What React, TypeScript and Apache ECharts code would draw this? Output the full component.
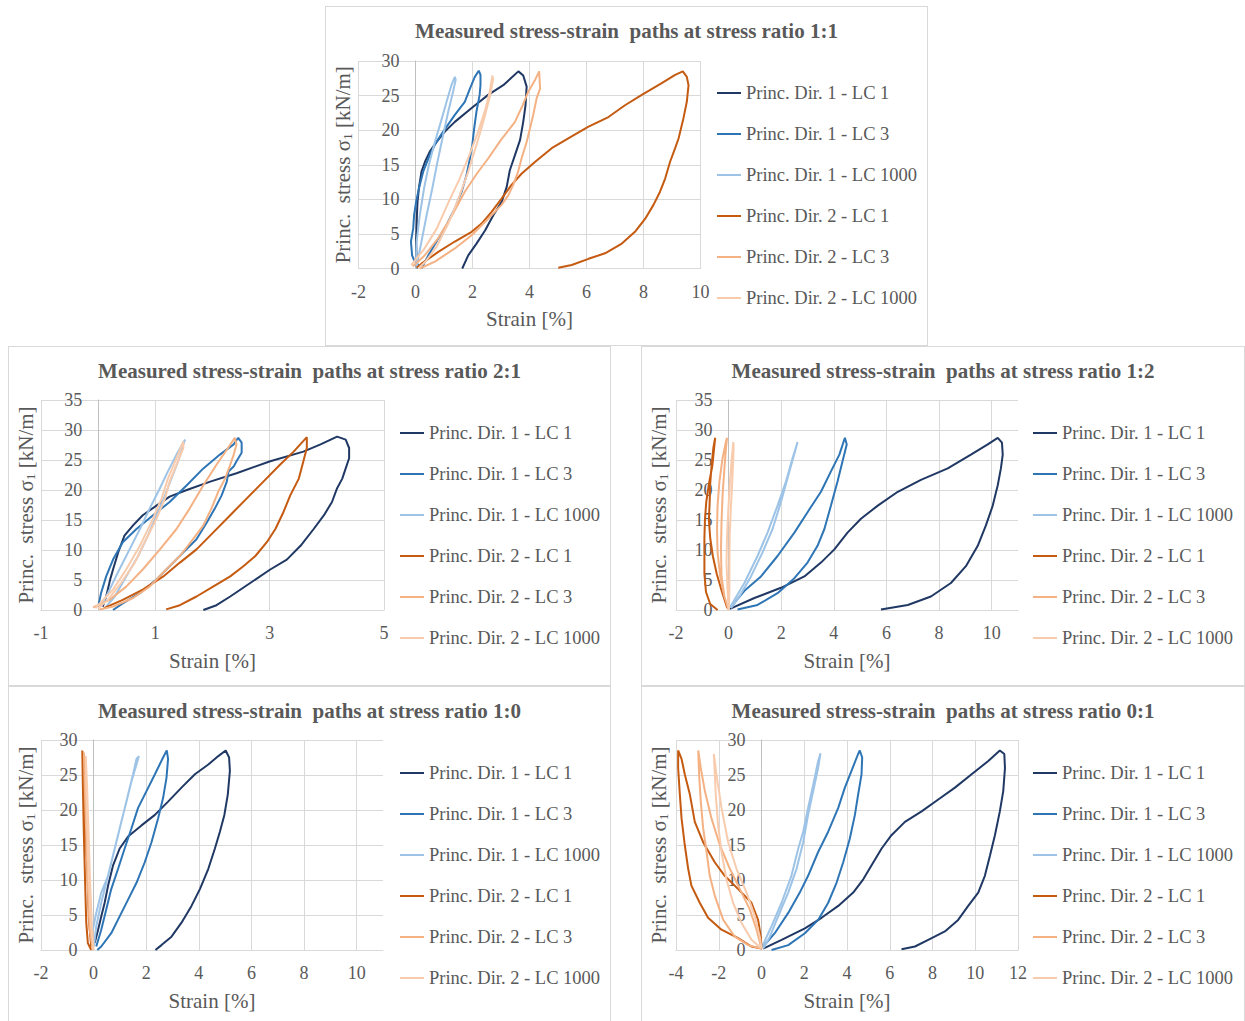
import React, { useEffect, useRef } from 'react';
import * as echarts from 'echarts';

const FONT = 'Liberation Serif';
const TXT = '#595959';
const GRID_C = '#d9d9d9';
const AXIS_C = '#bfbfbf';

const seriesNames = [
  'Princ. Dir. 1 - LC 1',
  'Princ. Dir. 1 - LC 3',
  'Princ. Dir. 1 - LC 1000',
  'Princ. Dir. 2 - LC 1',
  'Princ. Dir. 2 - LC 3',
  'Princ. Dir. 2 - LC 1000',
];
const seriesColors = ['#203864', '#2e75b6', '#9dc3e6', '#c55a11', '#f4b183', '#f8cbad'];

const xName = 'Strain [%]';
const yName = 'Princ.  stress σ{sub|1} [kN/m]';

// ---------- stress ratio 1:1 ----------
const r11_d1_lc1 = [[0.05,0],[0.02,3.9],[0.05,7.7],[0.07,9.6],[0.12,11.6],[0.21,14.0],[0.33,15.4],[0.5,16.9],[0.74,18.3],[1.03,19.8],[1.38,21.2],[1.97,23.2],[2.55,25.1],[3.08,26.5],[3.61,28.5],[3.78,27.9],[3.9,26.3],[3.86,23.6],[3.78,21.2],[3.67,18.6],[3.49,16.4],[3.31,14.2],[3.2,11.8],[3.02,9.6],[2.73,7.7],[2.44,5.5],[2.14,3.6],[1.85,1.9],[1.64,0]];
const r11_d1_lc3 = [[0.2,0],[-0.05,1.2],[-0.12,1.9],[-0.16,3.9],[-0.08,5.8],[-0.05,7.7],[0.02,9.6],[0.12,11.6],[0.27,14],[0.5,16.4],[0.72,18.2],[0.97,19.8],[1.38,22.2],[1.73,24.1],[1.91,26],[2.08,27.7],[2.22,28.6],[2.28,28],[2.28,26.5],[2.25,25.1],[2.14,22.7],[2.06,20.3],[1.99,17.8],[1.91,15.9],[1.79,13.5],[1.62,11.1],[1.38,8.7],[1.09,6.3],[0.74,3.9],[0.45,1.9],[0.21,0]];
const r11_d1_lc1000 = [[0.02,0.5],[0.04,3.9],[0.15,7.7],[0.3,11.6],[0.47,15],[0.68,18.3],[0.89,21.2],[1.09,24.1],[1.26,26.5],[1.38,27.7],[1.41,27.3],[1.32,25.6],[1.15,22.7],[0.97,19.3],[0.77,15.4],[0.59,11.6],[0.39,7.7],[0.21,3.9],[0.07,1],[0.04,0]];
const r11_d2_lc1 = [[0.04,0.1],[0.21,0.7],[0.8,2.4],[1.38,3.9],[1.97,5.3],[2.32,6.5],[2.67,8.2],[3.02,10.1],[3.37,12.1],[3.72,13.7],[4.19,15.4],[4.78,17.4],[5.36,18.8],[6.07,20.5],[6.77,21.9],[7.35,23.6],[7.94,25.1],[8.64,26.8],[9.11,28],[9.38,28.5],[9.52,27.7],[9.58,26.5],[9.52,24.1],[9.4,21.7],[9.23,18.8],[9.11,17.4],[8.93,15.4],[8.76,13],[8.58,11.1],[8.35,9.2],[8.06,7.2],[7.7,5.3],[7.24,3.6],[6.65,2.2],[6.07,1.4],[5.48,0.5],[5.01,0.1]];
const r11_d2_lc3 = [[-0.1,0.3],[0.3,1.8],[0.8,4.4],[1.3,7.8],[1.73,11.1],[2.15,13.7],[2.55,15.9],[3.0,18.6],[3.49,21.2],[3.75,23.5],[3.96,25.6],[4.2,27.3],[4.34,28.5],[4.37,26],[4.25,24.6],[4.13,22.2],[4.02,20.3],[3.9,18.3],[3.72,15.9],[3.6,14],[3.43,12.1],[3.26,10.6],[3.02,9.2],[2.55,7.2],[1.97,4.8],[1.38,2.9],[0.68,1],[0.15,0]];
const r11_d2_lc1000 = [[-0.15,0.5],[0.3,2.8],[0.75,5.8],[1.15,9.5],[1.55,13],[1.9,16.5],[2.2,19.8],[2.45,23],[2.6,25.5],[2.7,27.9],[2.72,27.3],[2.62,25],[2.4,21.5],[2.15,18],[1.85,14],[1.5,10],[1.15,6.5],[0.75,3.2],[0.35,1],[0.1,0]];

// ---------- stress ratio 2:1 ----------
const r21_d1_lc1 = [[0.08,0.56],[0.14,2.25],[0.21,5.1],[0.26,6.75],[0.35,9.6],[0.46,12.4],[0.61,14.1],[0.78,15.8],[1.02,17.4],[1.25,18.9],[1.55,20],[1.96,21.4],[2.42,22.8],[3.01,24.8],[3.59,26.4],[3.89,27.6],[4.18,28.9],[4.33,28.4],[4.39,27],[4.39,25.3],[4.33,23.6],[4.27,21.9],[4.18,20.3],[4.09,18],[3.95,15.8],[3.77,13.5],[3.54,10.7],[3.3,8.4],[3.01,6.75],[2.66,4.5],[2.31,2.25],[2.07,0.8],[1.84,0]];
const r21_d1_lc3 = [[0.0,0.56],[0.05,2.8],[0.14,5.6],[0.26,8.4],[0.43,11.3],[0.67,13.5],[0.96,15.8],[1.25,18],[1.55,20.8],[1.84,23.6],[2.13,25.9],[2.37,27.6],[2.45,28.7],[2.51,27.9],[2.51,26.2],[2.42,24.8],[2.37,23.9],[2.28,23.1],[2.25,21.4],[2.16,19.1],[2.04,16.9],[1.9,14.6],[1.72,11.8],[1.49,9.6],[1.25,7.3],[1.02,5.1],[0.73,2.8],[0.43,1.1],[0.26,0]];
const r21_d1_lc1000 = [[0.05,0.56],[0.2,3.4],[0.37,6.75],[0.55,10.1],[0.73,13.5],[0.9,16.9],[1.08,20.3],[1.22,23.1],[1.37,25.9],[1.52,28.4],[1.49,27.6],[1.4,24.8],[1.28,21.9],[1.17,19.1],[1.02,15.8],[0.87,12.4],[0.7,9],[0.49,5.6],[0.29,2.25],[0.14,0.56]];
const r21_d2_lc1 = [[0.1,0.3],[0.43,1.7],[0.78,3.4],[1.14,5.6],[1.43,7.9],[1.72,10.1],[2.01,12.9],[2.31,15.8],[2.6,18.6],[2.89,21.4],[3.18,24.2],[3.42,26.4],[3.65,28.8],[3.65,27],[3.59,24.8],[3.51,21.9],[3.36,19.1],[3.24,16.3],[3.1,13.5],[2.95,11.3],[2.75,9],[2.54,7.3],[2.31,5.6],[2.01,3.9],[1.72,2.25],[1.43,0.8],[1.19,0.1]];
const r21_d2_lc3 = [[-0.09,0.45],[0.2,1.7],[0.49,3.9],[0.78,6.75],[1.08,10.1],[1.37,13.5],[1.6,16.9],[1.84,20.8],[2.07,24.2],[2.25,26.7],[2.39,28.7],[2.42,27.6],[2.37,25.9],[2.31,24.2],[2.22,21.9],[2.1,19.7],[1.98,16.9],[1.84,14.1],[1.66,11.8],[1.43,9],[1.19,6.75],[0.9,3.9],[0.61,2],[0.26,0.56],[0.02,0.1]];
const r21_d2_lc1000 = [[-0.05,0.3],[0.26,3.4],[0.49,6.75],[0.73,10.7],[0.93,14.6],[1.11,18.6],[1.22,21.9],[1.37,25.3],[1.49,28.1],[1.49,27],[1.37,24.2],[1.25,21.4],[1.17,18.6],[1.02,15.2],[0.84,11.8],[0.64,7.9],[0.4,4.5],[0.17,1.7],[0,0.3]];

// ---------- stress ratio 1:2 ----------
const r12_d1_lc1 = [[0.05,0.2],[0.98,2],[1.99,3.7],[2.88,5.6],[3.51,7.9],[4.02,10.1],[4.52,12.9],[5.03,15.2],[5.67,17.4],[6.43,19.7],[7.31,21.7],[8.33,23.6],[9.21,25.9],[9.85,27.6],[10.23,28.7],[10.39,27.9],[10.42,25.9],[10.35,23.6],[10.23,20.8],[10.04,17.4],[9.78,14.1],[9.47,10.7],[9.02,7.3],[8.45,4.5],[7.69,2.25],[6.81,0.84],[5.79,0.1]];
const r12_d1_lc3 = [[0.09,0.5],[0.6,3.2],[1.23,5.6],[1.86,9],[2.5,12.9],[3.0,16.3],[3.51,19.7],[3.89,23.1],[4.21,25.9],[4.42,28.7],[4.49,27.6],[4.33,24.8],[4.14,21.4],[3.89,17.4],[3.64,13.5],[3.38,10.7],[3.0,7.9],[2.5,5.3],[1.86,2.8],[1.1,0.84],[0.34,0.1]];
const r12_d1_lc1000 = [[0.06,0.5],[0.6,4.5],[1.1,9],[1.48,12.9],[1.86,17.4],[2.18,21.4],[2.43,25.3],[2.62,28],[2.56,27],[2.31,23.1],[1.99,18],[1.67,13.5],[1.29,9.6],[0.85,5.6],[0.41,2.25],[0.09,0.3]];
const r12_d2_lc1 = [[-0.05,0.3],[-0.25,3],[-0.45,6],[-0.6,9],[-0.7,12],[-0.75,15],[-0.72,18],[-0.7,21],[-0.65,24],[-0.58,27],[-0.51,28.7],[-0.55,27],[-0.62,24],[-0.75,21],[-0.85,18],[-0.9,15],[-0.92,12],[-0.92,9],[-0.92,6],[-0.86,3],[-0.7,1],[-0.42,0]];
const r12_d2_lc3 = [[0,0],[-0.16,2.25],[-0.32,5.6],[-0.42,9.6],[-0.44,13.5],[-0.42,17.4],[-0.35,21.4],[-0.23,25.3],[-0.1,28.1],[-0.06,28.7],[-0.1,27],[-0.16,23.6],[-0.23,19.1],[-0.27,14.6],[-0.29,10.1],[-0.27,5.6],[-0.16,2.25],[-0.01,0.1]];
const r12_d2_lc1000 = [[0,0],[-0.04,3.4],[-0.08,7.9],[-0.06,12.4],[-0.01,16.9],[0.05,21.4],[0.11,24.8],[0.18,28],[0.19,27],[0.15,22.5],[0.09,17.4],[0.04,12.4],[0.03,7.9],[0.03,3.4],[0.01,0.1]];

// ---------- stress ratio 1:0 ----------
const r10_d1_lc1 = [[0.04,1],[0.17,2.9],[0.29,4.8],[0.42,6.75],[0.55,9.2],[0.74,12.1],[0.99,14.5],[1.31,16.2],[1.82,17.8],[2.33,19.3],[2.83,21.2],[3.34,23.2],[3.85,25.1],[4.36,26.5],[4.74,27.7],[5.02,28.5],[5.15,27.5],[5.18,25.6],[5.1,22.2],[4.97,19.3],[4.8,16.9],[4.61,14.5],[4.36,11.6],[4.04,8.7],[3.72,6.3],[3.34,3.9],[2.96,1.9],[2.58,0.7],[2.35,0]];
const r10_d1_lc3 = [[0.1,0.5],[0.29,2.9],[0.48,5.8],[0.67,8.7],[0.93,11.6],[1.18,14.5],[1.44,17.4],[1.69,20.3],[2.01,22.7],[2.33,25.1],[2.64,27.5],[2.78,28.5],[2.83,27.3],[2.77,24.6],[2.64,21.7],[2.45,18.8],[2.2,15.4],[1.94,12.5],[1.63,9.6],[1.31,7.2],[0.99,4.8],[0.67,2.4],[0.29,0.5],[0.14,0]];
const r10_d1_lc1000 = [[-0.03,2.9],[0.1,5.3],[0.29,8.2],[0.55,10.6],[0.74,13.5],[0.93,16.4],[1.12,19.3],[1.31,22.2],[1.5,25.1],[1.63,27.3],[1.72,27.7],[1.63,26.5],[1.44,24.1],[1.25,21.2],[1.05,18.3],[0.86,15.4],[0.67,12.5],[0.48,9.6],[0.29,6.75],[0.1,3.4],[0.01,0.5]];
const r10_d2_lc1 = [[-0.09,0],[-0.22,1],[-0.28,3.9],[-0.32,9.2],[-0.37,16.4],[-0.41,23.6],[-0.43,28.5],[-0.38,26],[-0.32,18.8],[-0.24,11.6],[-0.18,4.3],[-0.09,0.5]];
const r10_d2_lc3 = [[-0.03,0],[-0.15,2.9],[-0.22,9.2],[-0.28,16.4],[-0.34,23.6],[-0.37,28.2],[-0.32,25.1],[-0.24,17.8],[-0.18,10.6],[-0.11,3.9],[-0.04,0.1]];
const r10_d2_lc1000 = [[-0.01,0],[-0.11,3.9],[-0.19,10.6],[-0.24,17.4],[-0.28,23.6],[-0.3,27.7],[-0.25,23.6],[-0.19,16.4],[-0.13,9.2],[-0.06,2.9],[0,0]];

// ---------- stress ratio 0:1 ----------
const r01_d1_lc1 = [[0.08,0.2],[0.94,1.45],[2.03,3.1],[2.81,4.6],[3.59,6.3],[4.29,8.2],[4.76,10.1],[5.15,12.1],[5.62,14.5],[6.08,16.4],[6.71,18.3],[7.49,19.8],[8.27,21.5],[9.05,23.2],[9.83,25.1],[10.61,27],[11.15,28.5],[11.36,28],[11.39,26],[11.31,22.7],[11.15,19.8],[10.92,16.4],[10.69,13.5],[10.45,10.6],[10.14,8.2],[9.67,6.3],[9.2,4.3],[8.58,2.65],[7.8,1.45],[7.18,0.5],[6.55,0.1]];
const r01_d1_lc3 = [[0.08,0.5],[0.62,2.4],[1.25,5.3],[1.79,8.2],[2.18,10.6],[2.65,14],[3.12,16.9],[3.59,20.3],[3.9,23.2],[4.21,25.6],[4.52,28],[4.6,28.5],[4.71,27.5],[4.68,25.1],[4.52,22.2],[4.37,19.3],[4.13,15.9],[3.82,12.5],[3.51,9.6],[3.12,6.75],[2.65,4.3],[2.03,2.4],[1.25,0.7],[0.47,0]];
const r01_d1_lc1000 = [[0.03,0.5],[0.47,3.4],[0.94,6.75],[1.4,10.6],[1.72,14.5],[1.95,16.9],[2.18,20.3],[2.42,23.6],[2.65,27],[2.76,28.1],[2.65,26],[2.42,22.7],[2.18,19.3],[1.95,15.4],[1.64,11.6],[1.25,8.2],[0.78,4.8],[0.39,1.9],[0.08,0.2]];
const r01_d2_lc1 = [[0,0.2],[-0.47,0.5],[-1.09,1.7],[-1.87,2.9],[-2.5,4.6],[-2.89,6.75],[-3.28,9.2],[-3.43,11.6],[-3.59,15],[-3.74,18.8],[-3.82,22.2],[-3.9,26],[-3.9,28.5],[-3.74,27.3],[-3.59,25.1],[-3.35,22.2],[-3.12,18.3],[-2.73,15.4],[-2.18,12.5],[-1.72,10.6],[-1.09,8.7],[-0.47,6.75],[-0.16,4.3],[-0.03,1.9],[0,0.2]];
const r01_d2_lc3 = [[-0.03,0.2],[-0.62,0.7],[-1.25,1.9],[-1.79,4.3],[-2.18,7.7],[-2.42,10.6],[-2.57,14],[-2.73,17.4],[-2.84,21.2],[-2.92,25.1],[-2.96,28.5],[-2.84,26],[-2.65,22.7],[-2.34,18.8],[-1.95,15],[-1.48,11.6],[-1.01,8.7],[-0.55,5.8],[-0.23,2.9],[-0.03,0.5]];
const r01_d2_lc1000 = [[0,0.2],[-0.47,1.45],[-0.94,3.9],[-1.33,6.75],[-1.64,10.1],[-1.87,14],[-2.03,17.8],[-2.14,22.2],[-2.23,28],[-2.11,25.1],[-1.87,20.3],[-1.56,15.4],[-1.17,11.6],[-0.7,8.2],[-0.31,4.8],[-0.08,1.9],[0,0.2]];

const panels = [
  { title: 'Measured stress-strain  paths at stress ratio 1:1', xMin: -2, xMax: 10, yMax: 30,
    box: [325, 6, 603, 340], grid: [32.5, 54, 342, 207.5],
    data: [r11_d1_lc1, r11_d1_lc3, r11_d1_lc1000, r11_d2_lc1, r11_d2_lc3, r11_d2_lc1000] },
  { title: 'Measured stress-strain  paths at stress ratio 2:1', xMin: -1, xMax: 5, yMax: 35,
    box: [8, 346, 603, 340], grid: [32, 53, 343, 210],
    data: [r21_d1_lc1, r21_d1_lc3, r21_d1_lc1000, r21_d2_lc1, r21_d2_lc3, r21_d2_lc1000] },
  { title: 'Measured stress-strain  paths at stress ratio 1:2', xMin: -2, xMax: 11, yMax: 35,
    box: [641, 346, 604, 340], grid: [34, 53, 342, 210],
    data: [r12_d1_lc1, r12_d1_lc3, r12_d1_lc1000, r12_d2_lc1, r12_d2_lc3, r12_d2_lc1000] },
  { title: 'Measured stress-strain  paths at stress ratio 1:0', xMin: -2, xMax: 11, yMax: 30,
    box: [8, 686, 603, 336], grid: [32, 53, 342, 210],
    data: [r10_d1_lc1, r10_d1_lc3, r10_d1_lc1000, r10_d2_lc1, r10_d2_lc3, r10_d2_lc1000] },
  { title: 'Measured stress-strain  paths at stress ratio 0:1', xMin: -4, xMax: 12, yMax: 30,
    box: [641, 686, 604, 336], grid: [34, 53, 342, 210],
    data: [r01_d1_lc1, r01_d1_lc3, r01_d1_lc1000, r01_d2_lc1, r01_d2_lc3, r01_d2_lc1000] },
];

function Panel({ cfg }: { cfg: any }) {
  const ref = useRef<HTMLDivElement>(null);
  useEffect(() => {
    const chart = echarts.init(ref.current as HTMLDivElement, null, { renderer: 'svg' });
    const [gl, gt, gw, gh] = cfg.grid;
    const frac = (0 - cfg.xMin) / (cfg.xMax - cfg.xMin);
    const zeroShift = frac * gw;
    const maxOnTick = (cfg.xMax - cfg.xMin) % 2 === 0;
    chart.setOption({
      animation: false,
      title: {
        text: cfg.title, left: 'center', top: 8,
        textStyle: { fontFamily: FONT, fontSize: 21, fontWeight: 'bold', color: TXT },
      },
      grid: { left: gl, top: gt, width: gw, height: gh, containLabel: false, outerBoundsMode: 'none' },
      legend: {
        orient: 'vertical', left: 390, top: 76, padding: 0, itemWidth: 24, itemHeight: 14, itemGap: 21,
        textStyle: { fontFamily: FONT, fontSize: 18.5, color: TXT, lineHeight: 20 },
        itemStyle: { color: 'transparent', borderColor: 'transparent', borderWidth: 0, opacity: 0 },
        data: seriesNames,
      },
      xAxis: {
        type: 'value', min: cfg.xMin, max: cfg.xMax, interval: 2,
        axisLine: { show: true, onZero: false, lineStyle: { color: GRID_C, width: 1 } },
        axisTick: { show: false },
        axisLabel: { fontFamily: FONT, fontSize: 18, color: TXT, margin: 14, showMaxLabel: maxOnTick },
        splitLine: { show: true, showMaxLine: maxOnTick, lineStyle: { color: GRID_C, width: 1 } },
        name: xName, nameLocation: 'middle', nameGap: 40,
        nameTextStyle: { fontFamily: FONT, fontSize: 21, color: TXT },
      },
      yAxis: {
        type: 'value', min: 0, max: cfg.yMax, interval: 5,
        offset: -zeroShift,
        axisLine: { show: true, onZero: false, lineStyle: { color: AXIS_C, width: 1 } },
        axisTick: { show: false },
        axisLabel: { fontFamily: FONT, fontSize: 18, color: TXT, margin: 16 },
        splitLine: { show: true, lineStyle: { color: GRID_C, width: 1 } },
        name: yName, nameLocation: 'middle', nameRotate: 90, nameGap: zeroShift + gl - 28,
        nameTextStyle: {
          fontFamily: FONT, fontSize: 21, color: TXT, lineHeight: 22,
          rich: { sub: { fontFamily: FONT, fontSize: 13.5, color: TXT, lineHeight: 12, verticalAlign: 'bottom' } },
        },
      },
      series: cfg.data.map((d: number[][], i: number) => ({
        name: seriesNames[i], type: 'line', data: d, symbol: 'none', showSymbol: false,
        smooth: false, color: seriesColors[i],
        lineStyle: { color: seriesColors[i], width: 2 },
        emphasis: { disabled: true },
      })),
    });
    return () => chart.dispose();
  }, [cfg]);
  return (
    <div style={{
      position: 'absolute', left: cfg.box[0], top: cfg.box[1], width: cfg.box[2], height: cfg.box[3],
      border: '1px solid #d9d9d9', boxSizing: 'border-box', background: '#fff',
    }}>
      <div ref={ref} style={{ width: '100%', height: '100%' }} />
    </div>
  );
}

export default function App() {
  return (
    <div style={{ position: 'absolute', left: 0, top: 0, width: 1245, height: 1021, background: '#fff', overflow: 'hidden' }}>
      {panels.map((p, i) => <Panel key={i} cfg={p} />)}
    </div>
  );
}
